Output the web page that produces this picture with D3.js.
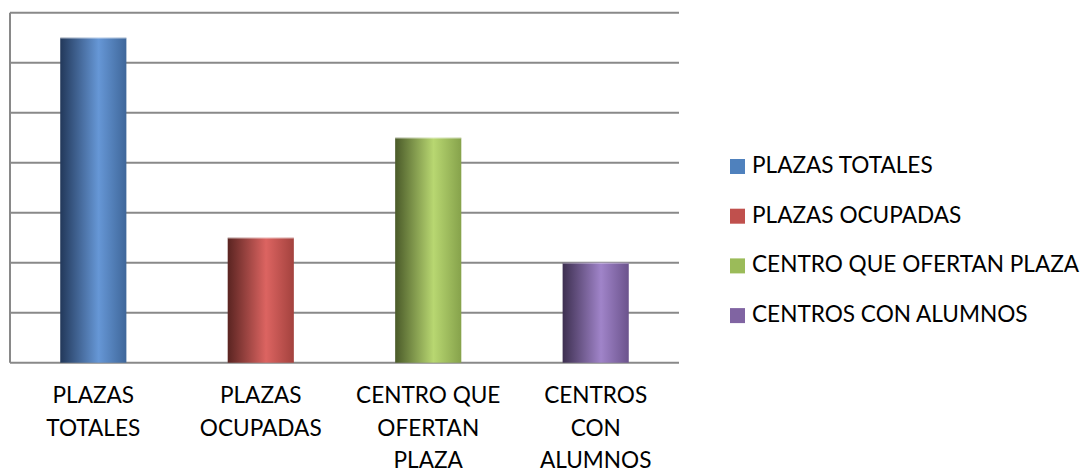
<!DOCTYPE html>
<html>
<head>
<meta charset="utf-8">
<script src="https://cdn.jsdelivr.net/npm/d3@7"></script>
<style>
  html, body { margin: 0; padding: 0; background: #ffffff; }
  svg { display: block; }
  text { font-family: Lato, "Open Sans", sans-serif; fill: #000; }
</style>
</head>
<body>
<svg id="chart" width="1085" height="472"></svg>
<script>
const categories = ["PLAZAS TOTALES", "PLAZAS OCUPADAS", "CENTRO QUE OFERTAN PLAZA", "CENTROS CON ALUMNOS"];
const values = [130, 50, 90, 40];
const tickLabels = [0, 20, 40, 60, 80, 100, 120, 140];
const axisLabelLines = [["PLAZAS", "TOTALES"], ["PLAZAS", "OCUPADAS"], ["CENTRO QUE", "OFERTAN", "PLAZA"], ["CENTROS", "CON", "ALUMNOS"]];
const colors = ["#4f81bd", "#c0504d", "#9bbb59", "#8064a2"];
const gradStops = [
  ["#22385a", "#6697d6", "#3f679a"],
  ["#5a2421", "#dc6461", "#a3423e"],
  ["#4a5a29", "#b8d771", "#86a24b"],
  ["#3d2f50", "#a084c9", "#6b538c"]
];

const svg = d3.select("#chart");
const W = 1085, H = 472;
const margin = { left: 10, top: 12.7, right: W - 679, bottom: H - 362.7 };

const x = d3.scaleBand().domain(categories).range([margin.left, W - margin.right])
  .paddingInner(0.605).paddingOuter(0.3);
const y = d3.scaleLinear().domain([0, 140]).range([H - margin.bottom, margin.top]);

const defs = svg.append("defs");
gradStops.forEach((s, i) => {
  const g = defs.append("linearGradient").attr("id", "g" + i).attr("x1", "0%").attr("x2", "100%").attr("y1", "0%").attr("y2", "0%");
  g.append("stop").attr("offset", "0%").attr("stop-color", s[0]);
  g.append("stop").attr("offset", "58%").attr("stop-color", s[1]);
  g.append("stop").attr("offset", "100%").attr("stop-color", s[2]);
});

// gridlines
svg.append("g").selectAll("line").data(tickLabels).join("line")
  .attr("x1", margin.left).attr("x2", W - margin.right)
  .attr("y1", d => y(d)).attr("y2", d => y(d))
  .attr("stroke", "#898989").attr("stroke-width", 2);

// left axis line
svg.append("line")
  .attr("x1", margin.left).attr("x2", margin.left)
  .attr("y1", y(140)).attr("y2", y(0))
  .attr("stroke", "#898989").attr("stroke-width", 2);

// bars
svg.append("g").selectAll("rect").data(values).join("rect")
  .attr("x", (d, i) => x(categories[i]))
  .attr("width", x.bandwidth())
  .attr("y", d => y(d))
  .attr("height", d => y(0) - y(d))
  .attr("fill", (d, i) => `url(#g${i})`);

// top highlight of bars
svg.append("g").selectAll("line").data(values).join("line")
  .attr("x1", (d, i) => x(categories[i]))
  .attr("x2", (d, i) => x(categories[i]) + x.bandwidth())
  .attr("y1", d => y(d) + 0.5).attr("y2", d => y(d) + 0.5)
  .attr("stroke", "#ffffff").attr("stroke-opacity", 0.45).attr("stroke-width", 1);

// category labels
const fs = 22.6;
const lab = svg.append("g").selectAll("text").data(categories).join("text")
  .attr("text-anchor", "middle")
  .attr("font-size", fs)
  .attr("x", d => x(d) + x.bandwidth() / 2)
  .attr("y", 403);
lab.each(function(d, i) {
  d3.select(this).selectAll("tspan").data(axisLabelLines[i]).join("tspan")
    .attr("x", x(d) + x.bandwidth() / 2)
    .attr("dy", (t, j) => j === 0 ? 0 : 32.5)
    .text(t => t);
});

// legend
const leg = svg.append("g").selectAll("g").data(categories).join("g")
  .attr("transform", (d, i) => `translate(730, ${159 + i * 49.7})`);
leg.append("rect").attr("width", 15).attr("height", 15).attr("fill", (d, i) => colors[i]);
leg.append("text").attr("x", 22).attr("y", 14).attr("font-size", fs).text(d => d);
</script>
</body>
</html>
